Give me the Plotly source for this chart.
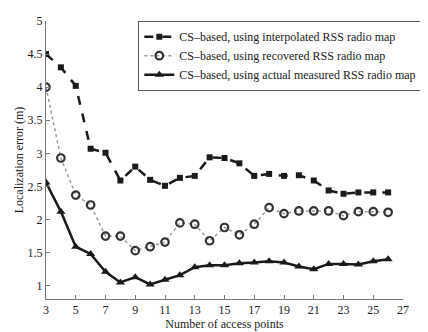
import plotly.graph_objects as go

aps = list(range(3, 27))
interp = [4.5, 4.3, 4.02, 3.07, 3.01, 2.59, 2.8, 2.6, 2.51, 2.63, 2.66, 2.94, 2.93, 2.85,
          2.66, 2.69, 2.66, 2.67, 2.59, 2.44, 2.39, 2.41, 2.41, 2.41]
recov = [4.0, 2.93, 2.37, 2.22, 1.75, 1.75, 1.53, 1.59, 1.66, 1.95, 1.93, 1.68, 1.88, 1.77,
         1.93, 2.18, 2.09, 2.13, 2.13, 2.13, 2.06, 2.12, 2.12, 2.11]
actual = [2.56, 2.12, 1.59, 1.48, 1.21, 1.05, 1.13, 1.02, 1.09, 1.16, 1.28, 1.31, 1.31, 1.34,
          1.35, 1.37, 1.35, 1.29, 1.25, 1.33, 1.33, 1.32, 1.37, 1.4]
names = ["CS\u2013based, using interpolated RSS radio map",
         "CS\u2013based, using recovered RSS radio map",
         "CS\u2013based, using actual measured RSS radio map"]
xticks = list(range(3, 28, 2))
yticks = [1, 1.5, 2, 2.5, 3, 3.5, 4, 4.5, 5]

font = "Liberation Serif, Times New Roman, serif"
fig = go.Figure()
fig.add_trace(go.Scatter(x=aps, y=interp, name=names[0], mode="lines+markers",
                         line=dict(color="#1a1a1a", width=2.5, dash="dash"),
                         marker=dict(symbol="square", size=6, color="#1a1a1a")))
fig.add_trace(go.Scatter(x=aps, y=recov, name=names[1], mode="lines+markers",
                         line=dict(color="#9a9a9a", width=1.5, dash="dot"),
                         marker=dict(symbol="circle-open", size=7.5, color="#333333",
                                     line=dict(width=2.2, color="#333333"))))
fig.add_trace(go.Scatter(x=aps, y=actual, name=names[2], mode="lines+markers",
                         line=dict(color="#1a1a1a", width=2.5),
                         marker=dict(symbol="triangle-up", size=8, color="#1a1a1a")))

# page has an 8px body margin, so the figure is sized/offset to compensate
fig.update_layout(
    width=420, height=324,
    margin=dict(l=38, r=6, t=7, b=30),
    paper_bgcolor="white", plot_bgcolor="white",
    font=dict(family=font, size=12, color="#222"),
    legend=dict(x=0.258, y=1.0, xanchor="left", yanchor="top",
                bgcolor="white", bordercolor="#555", borderwidth=1.2,
                font=dict(family=font, size=12), tracegroupgap=0,
                itemwidth=30),
    xaxis=dict(range=[3, 27], tickvals=xticks, showgrid=False, zeroline=False,
               showline=True, linecolor="#777", linewidth=1, ticks="inside",
               ticklen=4, tickcolor="#777",
               title=dict(text="Number of access points", standoff=0,
                          font=dict(family=font, size=12))),
    yaxis=dict(range=[0.8, 5], tickvals=yticks, showgrid=False, zeroline=False,
               showline=True, linecolor="#777", linewidth=1, ticks="inside",
               ticklen=4, tickcolor="#777",
               title=dict(text="Localization error (m)", standoff=1,
                          font=dict(family=font, size=12))),
    showlegend=True,
)
fig.write_html("out.html")
